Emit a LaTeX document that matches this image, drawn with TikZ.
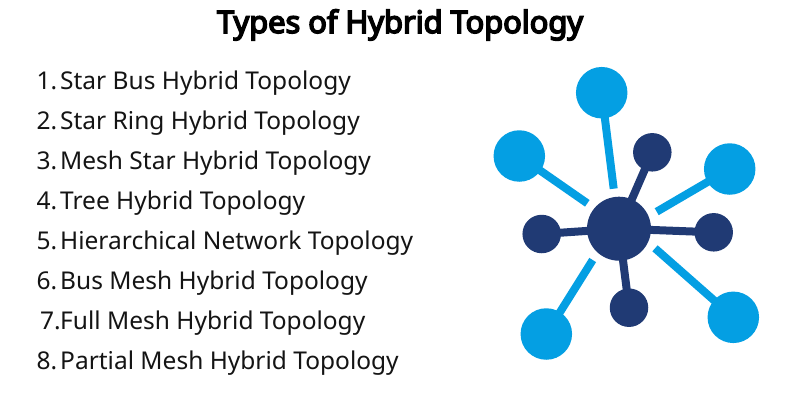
\documentclass[tikz,border=0pt]{standalone}
\usepackage{fontspec}
\setmainfont{Noto Sans}
\newfontfamily\titlefont{Noto Sans}[FakeBold=5]
\definecolor{lightnode}{HTML}{049FE3}
\definecolor{darknode}{HTML}{203A74}
\tikzset{
  x=1pt,y=-1pt,
  itemtext/.style={anchor=base west,inner sep=0pt,font=\fontsize{24.5}{28}\selectfont,text=black!92},
  itemnum/.style={anchor=base east,inner sep=0pt,font=\fontsize{24.5}{28}\selectfont,text=black!92},
  titletext/.style={anchor=base,inner sep=0pt,font=\titlefont\fontsize{30.8}{34}\selectfont,text=black},
  bignode/.style={circle,fill=lightnode,minimum size=51.5pt,inner sep=0pt},
  smallnode/.style={circle,fill=darknode,minimum size=38.5pt,inner sep=0pt},
  hubnode/.style={circle,fill=darknode,minimum size=64pt,inner sep=0pt},
  lightlink/.style={draw=lightnode,line width=8pt},
  darklink/.style={draw=darknode,line width=8pt},
}
\begin{document}
\begin{tikzpicture}
\useasboundingbox (0,0) rectangle (800,400);
\node[titletext] (title) at (400,33) {Types of Hybrid Topology};
\foreach \n/\t/\y/\nm/\nx in {1/Star Bus Hybrid Topology/89/a/57.5,2/Star Ring Hybrid Topology/129/b/57.5,3/Mesh Star Hybrid Topology/169/c/57.5,4/Tree Hybrid Topology/209/d/57.5,5/Hierarchical Network Topology/249/e/57.5,6/Bus Mesh Hybrid Topology/289/f/57.5,7/Full Mesh Hybrid Topology/329/g/61,8/Partial Mesh Hybrid Topology/369/h/57.5}{
  \node[itemnum] (num\nm) at (\nx,\y) {\n.};
  \node[itemtext] (txt\nm) at (60,\y) {\t};
}
\coordinate (hubc) at (619,228.7);
\coordinate (endtop) at (613.7,188.7);
\coordinate (endleft) at (587.3,203.3);
\coordinate (endright) at (656.7,211.7);
\coordinate (endbr) at (655,248.3);
\coordinate (endbl) at (592.7,260);
\node[bignode] (bigtop) at (601.7,92.7) {};
\node[bignode] (bigleft) at (519.3,156) {};
\node[bignode] (bigright) at (729.7,169) {};
\node[bignode] (bigbr) at (733.3,317.3) {};
\node[bignode] (bigbl) at (546.3,334) {};
\node[smallnode] (smalltop) at (652.3,152.3) {};
\node[smallnode] (smallright) at (713.7,232.3) {};
\node[smallnode] (smallbottom) at (629,307.7) {};
\node[smallnode] (smallleft) at (541.7,234) {};
\node[hubnode] (hub) at (hubc) {};
\draw[lightlink] (bigtop.center) -- (endtop);
\draw[lightlink] (bigleft.center) -- (endleft);
\draw[lightlink] (bigright.center) -- (endright);
\draw[lightlink] (bigbr.center) -- (endbr);
\draw[lightlink] (bigbl.center) -- (endbl);
\draw[darklink] (hub.center) -- (smalltop.center);
\draw[darklink] (hub.center) -- (smallright.center);
\draw[darklink] (hub.center) -- (smallbottom.center);
\draw[darklink] (hub.center) -- (smallleft.center);
\end{tikzpicture}
\end{document}
